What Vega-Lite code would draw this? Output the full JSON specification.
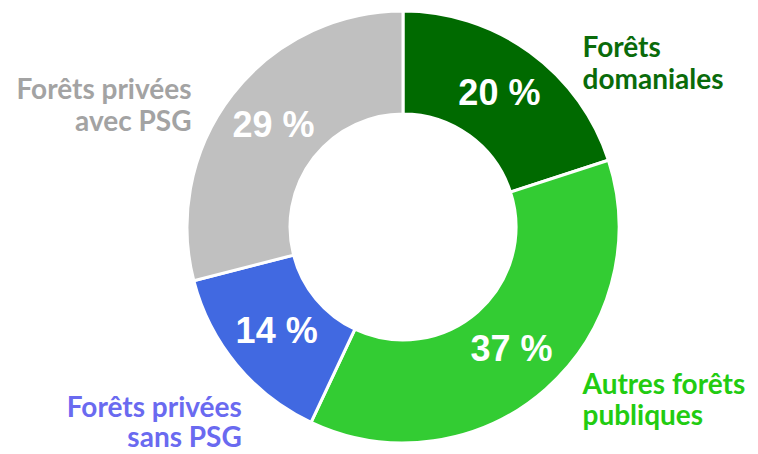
{
  "$schema": "https://vega.github.io/schema/vega-lite/v6.json",
  "width": 710,
  "height": 454,
  "autosize": {"type": "none"},
  "padding": {"left": 48, "right": 0, "top": 0, "bottom": 0},
  "background": "white",
  "view": {"stroke": null},
  "data": {
    "values": [
      {"order": 1, "cat": "Forêts domaniales", "label": "Forêts\ndomaniales", "value": 20, "pct": "20 %"},
      {"order": 2, "cat": "Autres forêts publiques", "label": "Autres forêts\npubliques", "value": 37, "pct": "37 %"},
      {"order": 3, "cat": "Forêts privées sans PSG", "label": "Forêts privées\nsans PSG", "value": 14, "pct": "14 %"},
      {"order": 4, "cat": "Forêts privées avec PSG", "label": "Forêts privées\navec PSG", "value": 29, "pct": "29 %"}
    ]
  },
  "encoding": {
    "theta": {"field": "value", "type": "quantitative", "stack": true},
    "order": {"field": "order", "type": "quantitative"}
  },
  "layer": [
    {
      "mark": {"type": "arc", "outerRadius": 216, "innerRadius": 113, "stroke": "white", "strokeWidth": 3},
      "encoding": {
        "color": {
          "field": "cat", "type": "nominal", "legend": null,
          "scale": {
            "domain": ["Forêts domaniales", "Autres forêts publiques", "Forêts privées sans PSG", "Forêts privées avec PSG"],
            "range": ["#006a00", "#33cc33", "#4169e1", "#c0c0c0"]
          }
        }
      }
    },
    {
      "mark": {"type": "text", "radius": 164, "font": "Liberation Sans", "fontWeight": "bold", "fontSize": 36, "fill": "white", "align": "center", "baseline": "middle"},
      "encoding": {"text": {"field": "pct"}}
    },
    {
      "mark": {"type": "text", "radius": 217, "font": "Lato", "fontWeight": "bold", "fontSize": 28, "lineHeight": 32, "lineBreak": "\n", "fill": "#0a6b0a", "align": "left", "baseline": "alphabetic", "dx": 52, "dy": 6},
      "encoding": {"text": {"condition": {"test": "datum.order === 1", "field": "label"}, "value": ""}}
    },
    {
      "mark": {"type": "text", "radius": 217, "font": "Lato", "fontWeight": "bold", "fontSize": 28, "lineHeight": 31, "lineBreak": "\n", "fill": "#22cc11", "align": "left", "baseline": "alphabetic", "dx": 36, "dy": 4},
      "encoding": {"text": {"condition": {"test": "datum.order === 2", "field": "label"}, "value": ""}}
    },
    {
      "mark": {"type": "text", "radius": 217, "font": "Lato", "fontWeight": "bold", "fontSize": 28, "lineHeight": 30, "lineBreak": "\n", "fill": "#6a6af0", "align": "right", "baseline": "alphabetic", "dx": 6, "dy": 52},
      "encoding": {"text": {"condition": {"test": "datum.order === 3", "field": "label"}, "value": ""}}
    },
    {
      "mark": {"type": "text", "radius": 217, "font": "Lato", "fontWeight": "bold", "fontSize": 28, "lineHeight": 32, "lineBreak": "\n", "fill": "#a3a3a3", "align": "right", "baseline": "alphabetic", "dx": -40, "dy": 5},
      "encoding": {"text": {"condition": {"test": "datum.order === 4", "field": "label"}, "value": ""}}
    }
  ]
}
